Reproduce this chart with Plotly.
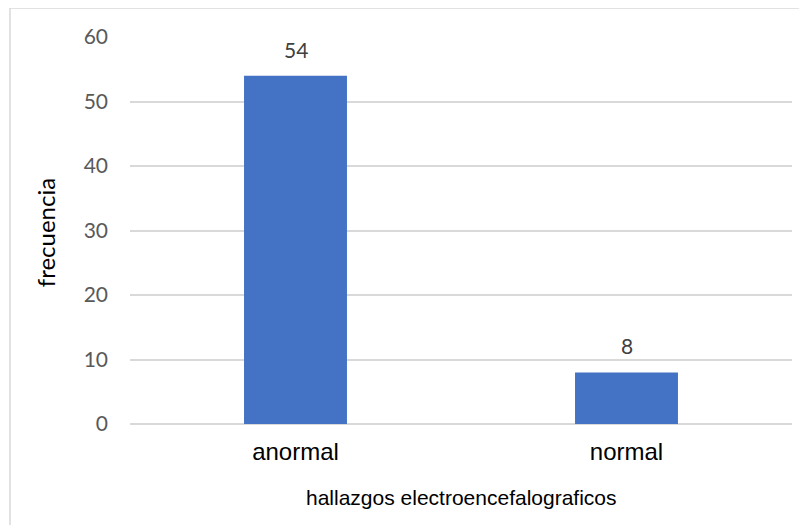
import plotly.graph_objects as go

categories = ["anormal", "normal"]
values = [54, 8]
y_ticks = [0, 10, 20, 30, 40, 50, 60]
x_title = "hallazgos electroencefalograficos"
y_title = "frecuencia"

fig = go.Figure()
fig.add_trace(go.Bar(
    x=categories, y=values,
    marker=dict(color="#4472C4", line=dict(width=0)),
    hoverinfo="x+y",
))

annotations = []
for c, v in zip(categories, values):
    annotations.append(dict(
        x=c, y=v, xref="x", yref="y", text=str(v), showarrow=False,
        yanchor="bottom", yshift=12,
        font=dict(family="Lato, Carlito, sans-serif", size=21, color="#404040"),
    ))
annotations.append(dict(
    x=0.5, y=-0.191, xref="paper", yref="paper", text=x_title, showarrow=False,
    xanchor="center", yanchor="middle",
    font=dict(family="Liberation Sans, Arial, sans-serif", size=21, color="#000000"),
))
annotations.append(dict(
    x=-0.128, y=0.4935, xref="paper", yref="paper", text=y_title, showarrow=False,
    xanchor="center", yanchor="middle", textangle=-90,
    font=dict(family="Lato, Carlito, sans-serif", size=24, color="#000000"),
))

border = "#d9d9d9"
shapes = [
    dict(type="line", xref="paper", yref="paper", x0=-0.1813, x1=1.05, y0=1.0749, y1=1.0749,
         line=dict(color=border, width=1.5)),
    dict(type="line", xref="paper", yref="paper", x0=-0.1813, x1=-0.1813, y0=1.0749, y1=-0.3,
         line=dict(color=border, width=1.5)),
]

fig.update_layout(
    width=807, height=525,
    margin=dict(l=122, r=23, t=29, b=109),
    paper_bgcolor="white", plot_bgcolor="white",
    bargap=0.689,
    showlegend=False,
    annotations=annotations,
    shapes=shapes,
    xaxis=dict(
        showgrid=False, showline=False, zeroline=False,
        tickfont=dict(family="Liberation Sans, Arial, sans-serif", size=24, color="#000000"),
        ticks="", ticklabelstandoff=11,
    ),
    yaxis=dict(
        range=[0, 60], tickvals=y_ticks, showgrid=True, gridcolor=border, gridwidth=1.5,
        zeroline=True, zerolinecolor=border, zerolinewidth=1.5, showline=False,
        tickfont=dict(family="Lato, Carlito, sans-serif", size=21, color="#595959"),
        ticks="", ticklabelstandoff=21,
    ),
)

fig.write_html("out.html")
